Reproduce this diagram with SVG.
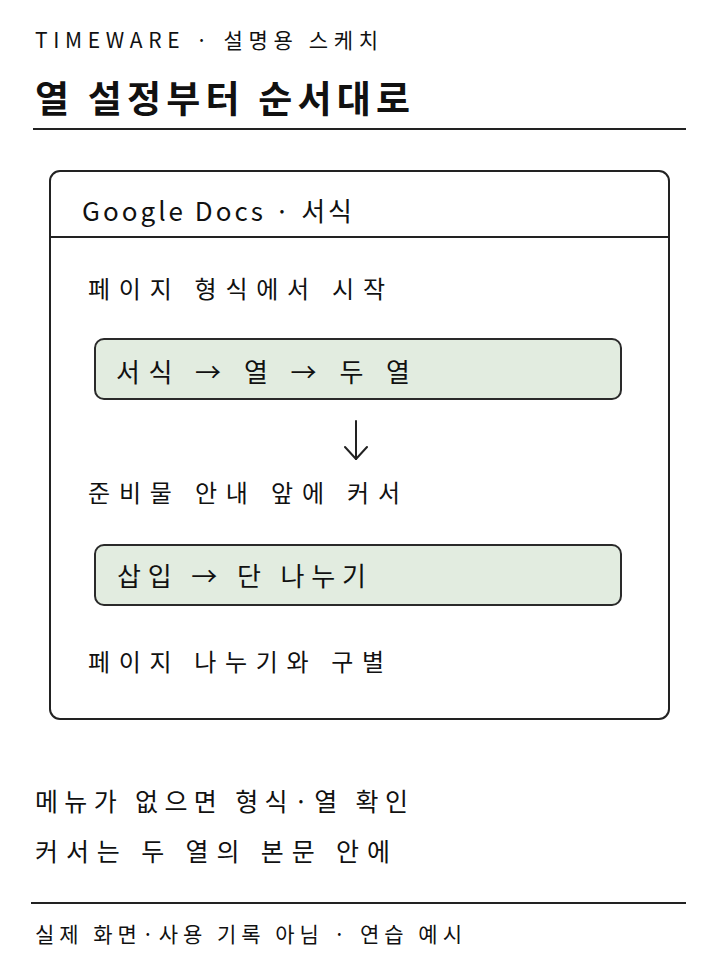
<svg xmlns="http://www.w3.org/2000/svg" width="720" height="960" viewBox="0 0 720 960">
<defs>
<style>
text{font-family:"Noto Sans CJK KR","Noto Sans",sans-serif;fill:#111}
.sm{font-size:21px}
.t{font-size:37px;font-weight:700}
.h{font-size:26px}
.b{font-size:24px}
.n{font-size:25px}
.card{fill:#fff;stroke:#222;stroke-width:2}
.step{fill:#e2ece0;stroke:#2a2a2a;stroke-width:2}
.rule{stroke:#222;stroke-width:2;fill:none}
.conn{stroke:#222;stroke-width:2;fill:none;stroke-linecap:round;stroke-linejoin:round}
</style>
<marker id="ah" viewBox="0 0 20 24" refX="18" refY="12" markerWidth="20" markerHeight="24" markerUnits="userSpaceOnUse" orient="auto">
<path d="M6 1 L18 12 L6 23" fill="none" stroke="#222" stroke-width="2" stroke-linecap="round" stroke-linejoin="round"/>
</marker>
</defs>
<rect width="720" height="960" fill="#fff"/>
<g id="header">
<text class="sm" x="35" y="48" textLength="343" lengthAdjust="spacing">TIMEWARE · 설명용 스케치</text>
<text class="t" x="35" y="113" textLength="375" lengthAdjust="spacing">열 설정부터 순서대로</text>
<line class="rule" x1="33" y1="129" x2="686" y2="129"/>
</g>
<g id="card">
<rect class="card" x="50" y="171" width="619" height="548" rx="10"/>
<line class="rule" x1="50" y1="237" x2="669" y2="237"/>
<text class="h" x="82" y="221" textLength="270" lengthAdjust="spacing">Google Docs · 서식</text>
<text class="b" x="88" y="298" textLength="297" lengthAdjust="spacing">페이지 형식에서 시작</text>
<text class="b" x="88" y="502" textLength="312" lengthAdjust="spacing">준비물 안내 앞에 커서</text>
<text class="b" x="88" y="671" textLength="296" lengthAdjust="spacing">페이지 나누기와 구별</text>
</g>
<g id="step1">
<rect class="step" x="95" y="339" width="526" height="60" rx="9"/>
<text class="h" x="116" y="382" textLength="294" lengthAdjust="spacing">서식 → 열 → 두 열</text>
</g>
<g id="step2">
<rect class="step" x="95" y="545" width="526" height="60" rx="9"/>
<text class="h" x="117" y="586" textLength="249" lengthAdjust="spacing">삽입 → 단 나누기</text>
</g>
<g id="connectors">
<line class="conn" x1="356" y1="421" x2="356" y2="459" marker-end="url(#ah)"/>
</g>
<g id="notes">
<text class="n" x="35" y="811" textLength="373" lengthAdjust="spacing">메뉴가 없으면 형식·열 확인</text>
<text class="n" x="35" y="861" textLength="355" lengthAdjust="spacing">커서는 두 열의 본문 안에</text>
<line class="rule" x1="31" y1="903" x2="686" y2="903"/>
<text class="sm" x="35" y="942" textLength="427" lengthAdjust="spacing">실제 화면·사용 기록 아님 · 연습 예시</text>
</g>
</svg>
